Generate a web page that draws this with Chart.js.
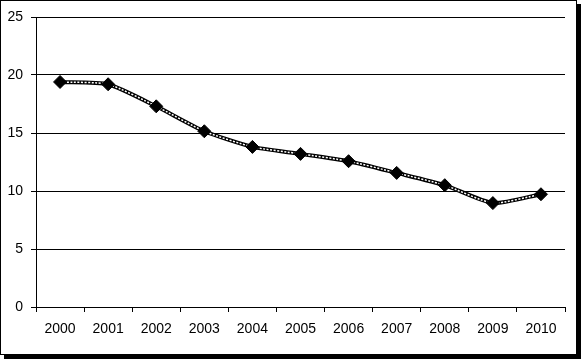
<!DOCTYPE html>
<html>
<head>
<meta charset="utf-8">
<script src="https://cdn.jsdelivr.net/npm/chart.js@4/dist/chart.umd.min.js"></script>
<style>
html,body{margin:0;padding:0;background:#fff;}
#wrap{width:581px;height:359px;position:relative;}
</style>
</head>
<body>
<div id="wrap"><canvas id="c" width="581" height="359"></canvas></div>
<script>
const years = ['2000','2001','2002','2003','2004','2005','2006','2007','2008','2009','2010'];
const values = [19.4, 19.2, 17.3, 15.15, 13.8, 13.2, 12.57, 11.56, 10.5, 8.96, 9.72];
const yTicks = [0, 5, 10, 15, 20, 25];

const FONT = {family: '"Liberation Sans", Arial, sans-serif', size: 14};

const framePlugin = {
  id: 'frame',
  beforeDraw(chart) {
    const ctx = chart.ctx;
    ctx.save();
    ctx.fillStyle = '#fff';
    ctx.fillRect(0, 0, 581, 359);
    ctx.fillStyle = '#000';
    ctx.fillRect(577, 4, 4, 355);
    ctx.fillRect(4, 355, 577, 4);
    ctx.strokeStyle = '#000';
    ctx.lineWidth = 1;
    ctx.strokeRect(0.5, 0.5, 576, 354);
    ctx.restore();
  }
};

new Chart(document.getElementById('c'), {
  type: 'line',
  data: {
    labels: years,
    datasets: [
      {
        data: values,
        borderColor: '#000',
        borderWidth: 4,
        tension: 0.2,
        pointRadius: 0,
        order: 3
      },
      {
        data: values,
        borderColor: '#fff',
        borderWidth: 1.5,
        borderDash: [2, 1.5],
        tension: 0.2,
        pointRadius: 0,
        order: 2
      },
      {
        data: values,
        showLine: false,
        pointStyle: 'rectRot',
        pointRadius: 6.5,
        pointBackgroundColor: '#000',
        pointBorderColor: '#000',
        pointBorderWidth: 1,
        order: 1
      }
    ]
  },
  options: {
    responsive: false,
    animation: false,
    devicePixelRatio: 1,
    layout: {padding: {top: 17, right: 16, bottom: 16, left: 0}},
    plugins: {legend: {display: false}, tooltip: {enabled: false}},
    scales: {
      x: {
        offset: true,
        border: {display: true, color: '#000', width: 1},
        grid: {display: true, offset: true, drawOnChartArea: false, drawTicks: true, tickLength: 5, color: '#000'},
        ticks: {color: '#000', font: FONT, padding: 9, maxRotation: 0, autoSkip: false},
        afterFit(scale) { scale.height = 36; }
      },
      y: {
        min: 0,
        max: 25,
        border: {display: true, color: '#000', width: 1},
        grid: {display: true, color: '#000', drawTicks: true, tickLength: 5},
        afterBuildTicks(scale) { scale.ticks = yTicks.map(v => ({value: v})); },
        ticks: {color: '#000', font: FONT, padding: 8},
        afterFit(scale) { scale.width = 36; }
      }
    }
  },
  plugins: [framePlugin]
});
</script>
</body>
</html>
